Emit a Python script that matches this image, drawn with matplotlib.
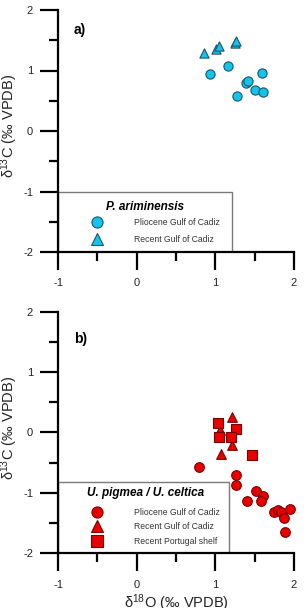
import matplotlib
matplotlib.use('Agg')
import matplotlib.pyplot as plt
from matplotlib.patches import Rectangle
from matplotlib.lines import Line2D

plt.rcParams['font.family'] = ['Liberation Sans', 'DejaVu Sans']
plt.rcParams['mathtext.fontset'] = 'custom'
plt.rcParams['mathtext.rm'] = 'Liberation Sans'
plt.rcParams['axes.unicode_minus'] = False

# panel a) P. ariminensis
a_plio_x = [0.93, 1.16, 1.59, 1.39, 1.41, 1.28, 1.50, 1.60]
a_plio_y = [0.94, 1.08, 0.96, 0.79, 0.82, 0.58, 0.68, 0.65]
a_rec_x = [0.86, 1.01, 1.05, 1.25, 1.26]
a_rec_y = [1.29, 1.35, 1.40, 1.46, 1.48]

# panel b) U. pigmea / U. celtica
b_plio_x = [0.79, 1.26, 1.26, 1.40, 1.52, 1.60, 1.58, 1.75, 1.80, 1.84, 1.87, 1.95, 1.89]
b_plio_y = [-0.57, -0.70, -0.87, -1.14, -0.97, -1.05, -1.13, -1.31, -1.29, -1.32, -1.41, -1.26, -1.64]
b_rec_x = [1.21, 1.21, 1.07, 1.06]
b_rec_y = [0.26, -0.21, -0.36, 0.04]
b_port_x = [1.03, 1.26, 1.05, 1.20, 1.46]
b_port_y = [0.15, 0.05, -0.07, -0.07, -0.38]

cyan = '#12C3EE'
cyan_edge = '#1D5566'
red = '#E80000'
red_edge = '#7A0000'

fig = plt.figure(figsize=(3.08, 6.08), dpi=100)
ax1 = fig.add_axes([58/308, 1-252/608, 236/308, 242/608])
ax2 = fig.add_axes([58/308, 1-553.3/608, 236/308, 241.6/608])

ylab = r'δ$\mathregular{^{13}}$C (‰ VPDB)'

def style(ax):
    ax.set_xlim(-1, 2)
    ax.set_ylim(-2, 2)
    ax.spines['top'].set_visible(False)
    ax.spines['right'].set_visible(False)
    ax.spines['left'].set_linewidth(1.6)
    ax.spines['bottom'].set_linewidth(1.6)
    ax.set_xticks([-1, 0, 1, 2])
    ax.set_xticks([-0.5, 0.5, 1.5], minor=True)
    ax.set_yticks([-2, -1, 0, 1, 2])
    ax.set_yticks([-1.5, -0.5, 0.5, 1.5], minor=True)
    ax.tick_params(which='major', direction='out', length=13, width=1.6, labelsize=8, pad=5, colors='black')
    ax.tick_params(which='minor', direction='out', length=6.5, width=1.6)
    ax.tick_params(axis='x', which='major', labelcolor='#222222', pad=6)
    ax.tick_params(axis='y', labelcolor='#222222')
    ax.set_ylabel(ylab, fontsize=10.5, color='#222222')
    ax.yaxis.set_label_coords(-0.16, 0.52)

ms = 44
# top panel
ax1.scatter(a_plio_x, a_plio_y, s=ms, marker='o', c=cyan, edgecolors=cyan_edge, linewidths=0.8, zorder=3, clip_on=False)
ax1.scatter(a_rec_x, a_rec_y, s=ms, marker='^', c=cyan, edgecolors=cyan_edge, linewidths=0.8, zorder=3, clip_on=False)
style(ax1)
ax1.text(-0.8, 1.67, 'a)', fontsize=10, fontweight='bold', va='center', ha='left')
ax1.add_patch(Rectangle((-1, -2), 2.21, 1.0, facecolor='white', edgecolor='#7a7a7a', lw=1.0, zorder=2))
ax1.text(0.369, 0.187, 'P. ariminensis', transform=ax1.transAxes, fontsize=8.5,
         fontweight='bold', fontstyle='italic', ha='center', va='center', zorder=4)
h1 = [Line2D([], [], ls='', marker='o', ms=8, mfc=cyan, mec=cyan_edge, mew=0.8),
      Line2D([], [], ls='', marker='^', ms=8, mfc=cyan, mec=cyan_edge, mew=0.8)]
leg1 = ax1.legend(h1, ['Pliocene Gulf of Cadiz', 'Recent Gulf of Cadiz'], loc='upper left',
                  bbox_to_anchor=((84-58)/236, (252-214)/242), frameon=False, fontsize=6.2,
                  borderpad=0, handlelength=2, handletextpad=3.3, labelspacing=0.9,
                  labelcolor='#333333')
leg1.set_zorder(4)

# bottom panel
ax2.scatter(b_plio_x, b_plio_y, s=ms*1.1, marker='o', c=red, edgecolors=red_edge, linewidths=0.8, zorder=3, clip_on=False)
ax2.scatter(b_rec_x, b_rec_y, s=ms*1.1, marker='^', c=red, edgecolors=red_edge, linewidths=0.8, zorder=3, clip_on=False)
ax2.scatter(b_port_x, b_port_y, s=ms*1.1, marker='s', c=red, edgecolors=red_edge, linewidths=0.8, zorder=3, clip_on=False)
style(ax2)
ax2.set_xlabel(r'δ$\mathregular{^{18}}$O (‰ VPDB)', fontsize=10.5, color='#222222', labelpad=2)
ax2.text(-0.8, 1.55, 'b)', fontsize=10, fontweight='bold', va='center', ha='left')
ax2.add_patch(Rectangle((-1, -2), 2.17, 1.18, facecolor='white', edgecolor='#7a7a7a', lw=1.0, zorder=2))
ax2.text(0.369, 0.251, 'U. pigmea / U. celtica', transform=ax2.transAxes, fontsize=8.5,
         fontweight='bold', fontstyle='italic', ha='center', va='center', zorder=4)
h2 = [Line2D([], [], ls='', marker='o', ms=8, mfc=red, mec=red_edge, mew=0.8),
      Line2D([], [], ls='', marker='^', ms=8, mfc=red, mec=red_edge, mew=0.8),
      Line2D([], [], ls='', marker='s', ms=8, mfc=red, mec=red_edge, mew=0.8)]
leg2 = ax2.legend(h2, ['Pliocene Gulf of Cadiz', 'Recent Gulf of Cadiz', 'Recent Portugal shelf'],
                  loc='upper left', bbox_to_anchor=((84-58)/236, (553.3-504)/241.6), frameon=False,
                  fontsize=6.2, borderpad=0, handlelength=2, handletextpad=3.3, labelspacing=0.6,
                  labelcolor='#333333')
leg2.set_zorder(4)

fig.savefig('out.png', dpi=100)
